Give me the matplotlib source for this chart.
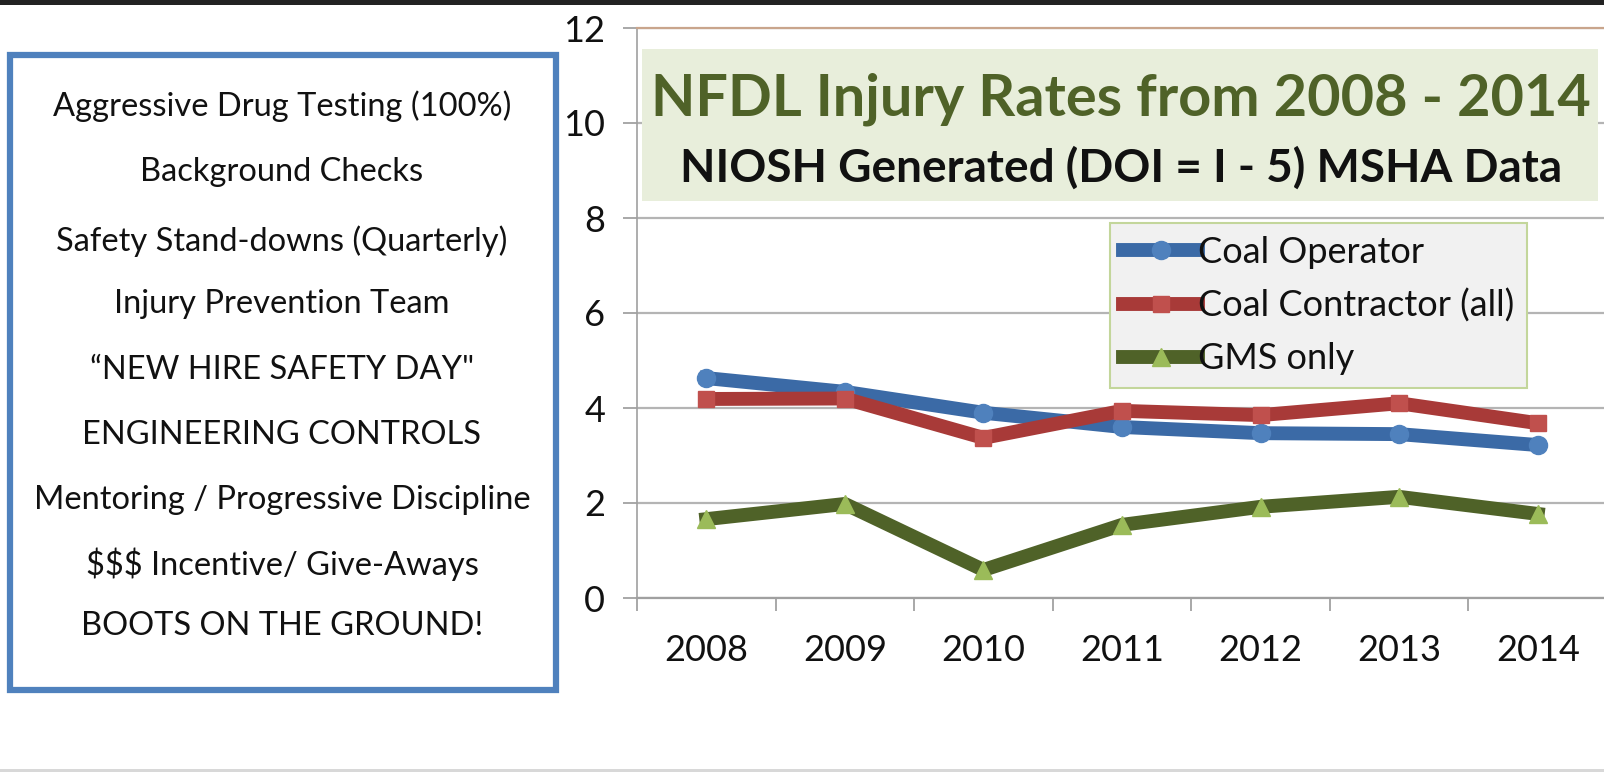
import matplotlib
matplotlib.use("Agg")
import matplotlib.pyplot as plt
from matplotlib.patches import Rectangle
from matplotlib.lines import Line2D

years = ["2008", "2009", "2010", "2011", "2012", "2013", "2014"]
coal_operator = [4.63, 4.34, 3.90, 3.60, 3.47, 3.45, 3.22]
coal_contractor = [4.19, 4.20, 3.37, 3.94, 3.85, 4.10, 3.68]
gms_only = [1.66, 1.98, 0.59, 1.54, 1.92, 2.13, 1.77]
series_labels = ["Coal Operator", "Coal Contractor (all)", "GMS only"]
yticks = [0, 2, 4, 6, 8, 10, 12]
title = "NFDL Injury Rates from 2008 - 2014"
subtitle = "NIOSH Generated (DOI = I - 5) MSHA Data"
panel_lines = [
    "Aggressive Drug Testing (100%)",
    "Background Checks",
    "Safety Stand-downs (Quarterly)",
    "Injury Prevention Team",
    "\u201cNEW HIRE SAFETY DAY\"",
    "ENGINEERING CONTROLS",
    "Mentoring / Progressive Discipline",
    "$$$ Incentive/ Give-Aways",
    "BOOTS ON THE GROUND!",
]

plt.rcParams['font.family'] = ['Lato', 'DejaVu Sans']

W, H = 1604, 772
fig = plt.figure(figsize=(W / 100, H / 100), dpi=100)
fig.patch.set_facecolor("white")

def fx(px):
    return px / W

def fy(py):
    return 1 - py / H

# axes
left, right = 637, 1607
top, bottom = 28, 598
ax = fig.add_axes([fx(left), fy(bottom), fx(right - left), (bottom - top) / H])
ax.set_facecolor("white")
x = list(range(len(years)))

LW = 10
ax.plot(x, coal_operator, color="#3b6aa6", lw=LW, marker="o", ms=13,
        mfc="#4f81bd", mec="#4f81bd", zorder=3)
ax.plot(x, coal_contractor, color="#a83a38", lw=LW, marker="s", ms=12,
        mfc="#c0504d", mec="#c0504d", zorder=4)
ax.plot(x, gms_only, color="#4f6228", lw=LW, marker="^", ms=13,
        mfc="#9bbb59", mec="#9bbb59", zorder=3)

ax.set_xlim(-0.5, len(years) - 0.5)
ax.set_ylim(0, 12)
ax.set_yticks(yticks)
ax.set_yticklabels([str(v) for v in yticks])
ax.set_xticks(x)
ax.set_xticklabels(years)
ax.set_xticks([i - 0.5 for i in range(len(years) + 1)], minor=True)
ax.tick_params(axis="x", which="major", length=0, pad=26, labelsize=26, labelcolor="#111111")
ax.tick_params(axis="x", which="minor", length=9, width=1.2, color="#9a9a9a", direction="out")
ax.tick_params(axis="y", which="major", length=10, width=1.2, color="#9a9a9a",
               pad=13, labelsize=26, labelcolor="#111111")
ax.grid(axis="y", color="#b4b4b4", lw=1.6, zorder=0)
ax.set_axisbelow(True)
ax.spines["right"].set_visible(False)
ax.spines["top"].set_color("#c9a58c")
ax.spines["top"].set_linewidth(1.6)
ax.spines["left"].set_color("#a0a0a0")
ax.spines["left"].set_linewidth(1.2)
ax.spines["bottom"].set_color("#a0a0a0")
ax.spines["bottom"].set_linewidth(1.6)

# title box
fig.patches.append(Rectangle((fx(642), fy(201)), fx(1598 - 642), (201 - 49) / H,
                             transform=fig.transFigure, facecolor="#e8eedb",
                             edgecolor="none", zorder=5))
fig.text(fx(1121), fy(99), title, ha="center", va="center", fontsize=41.5,
         fontweight="bold", color="#4f6228", zorder=6)
fig.text(fx(1121), fy(168), subtitle, ha="center", va="center", fontsize=33,
         fontweight="bold", color="#111111", zorder=6)

# legend
handles = [
    Line2D([], [], color="#3b6aa6", lw=LW, marker="o", ms=13, mfc="#4f81bd", mec="#4f81bd"),
    Line2D([], [], color="#a83a38", lw=LW, marker="s", ms=12, mfc="#c0504d", mec="#c0504d"),
    Line2D([], [], color="#4f6228", lw=LW, marker="^", ms=13, mfc="#9bbb59", mec="#9bbb59"),
]
leg = ax.legend(handles, series_labels, loc="upper left",
                bbox_to_anchor=(fx(1110), fy(223)), bbox_transform=fig.transFigure,
                borderaxespad=0, fontsize=26, frameon=True, fancybox=False,
                handlelength=2.1, handletextpad=0.0, labelspacing=0.55,
                borderpad=0.35, markerscale=1.0)
leg.get_frame().set_facecolor("#f1f1f1")
leg.get_frame().set_edgecolor("#c3d69b")
leg.get_frame().set_linewidth(1.5)
leg.get_frame().set_alpha(1)
for t in leg.get_texts():
    t.set_color("#111111")

# left panel box
fig.patches.append(Rectangle((fx(10), fy(690)), fx(546), (690 - 55) / H,
                             transform=fig.transFigure, facecolor="white",
                             edgecolor="#4f81bd", lw=4.5, zorder=5))
ys = [106, 172, 241, 304, 370, 435, 500, 564, 626]
for s, yy in zip(panel_lines, ys):
    fig.text(fx(282), fy(yy), s, ha="center", va="center", fontsize=23.5,
             color="#111111", zorder=6)

# screenshot edges
fig.patches.append(Rectangle((0, fy(5)), 1, 5 / H, transform=fig.transFigure,
                             facecolor="#222222", edgecolor="none", zorder=7))
fig.patches.append(Rectangle((0, 0), 1, 3 / H, transform=fig.transFigure,
                             facecolor="#d8d8d8", edgecolor="none", zorder=7))

fig.savefig("out.png", dpi=100)
